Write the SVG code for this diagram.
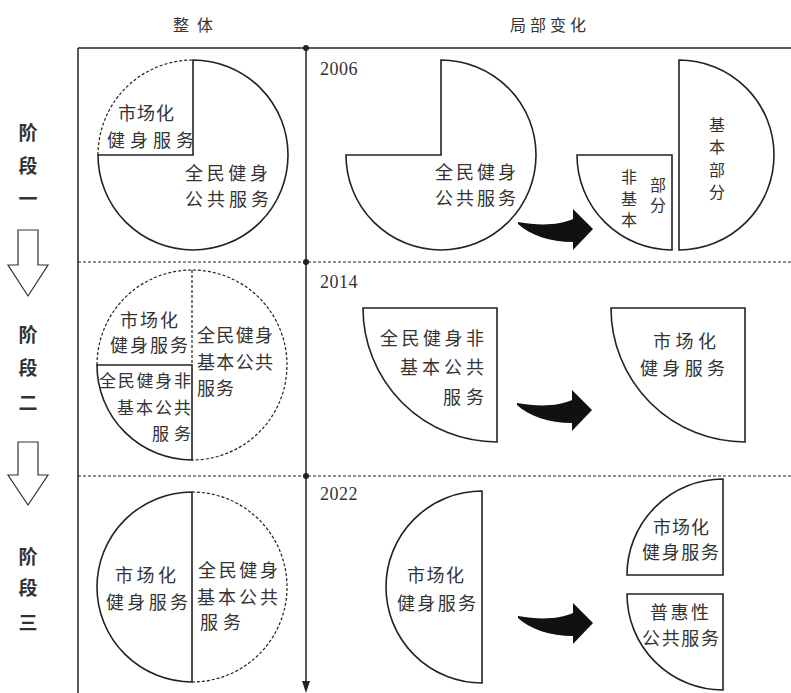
<svg xmlns="http://www.w3.org/2000/svg" xmlns:xlink="http://www.w3.org/1999/xlink" width="791" height="693" viewBox="0 0 791 693">
<style>
.ln{stroke:#222;stroke-width:1.5;fill:none}
.dl{stroke:#222;stroke-width:1.2;fill:none;stroke-dasharray:3,2}
.sh{stroke:#222;stroke-width:1.6;fill:#fff}
.t{font-family:"Noto Sans CJK SC","Noto Sans",sans-serif;font-size:18px;fill:#333}
.h{font-family:"Noto Sans CJK SC","Noto Sans",sans-serif;font-size:16px;fill:#333}
.st{font-family:"Noto Sans CJK SC","Noto Sans",sans-serif;font-size:19px;font-weight:bold;fill:#333;text-anchor:middle}
.yr{font-family:"Liberation Serif","Times New Roman",serif;font-size:18px;fill:#333;letter-spacing:0.5px}
.v{font-size:16px;writing-mode:vertical-rl}
</style>
<defs>
<path id="bigarrow" d="M518,222 C540,226 560,225 573,219 L573,209 L593,229 L573,250 L573,242 C550,242 530,235 518,224 Z" fill="#111"/>
</defs>

<g id="frame">
<line class="ln" x1="78" y1="48" x2="791" y2="48"/>
<line class="ln" x1="78" y1="48" x2="78" y2="693"/>
<line class="dl" x1="78" y1="262" x2="791" y2="262"/>
<line class="dl" x1="78" y1="476" x2="791" y2="476"/>
</g>

<g id="headers">
<text class="h" x="173" y="31" textLength="40">整体</text>
<text class="h" x="510" y="31" textLength="76">局部变化</text>
</g>

<g id="stage-labels">
<text class="st" x="28" y="140">阶</text>
<text class="st" x="28" y="173">段</text>
<text class="st" x="28" y="206">一</text>
<text class="st" x="28" y="342">阶</text>
<text class="st" x="28" y="375">段</text>
<text class="st" x="28" y="410">二</text>
<text class="st" x="28" y="564">阶</text>
<text class="st" x="28" y="595">段</text>
<text class="st" x="28" y="630">三</text>
</g>

<g id="stage-arrows">
<polygon points="18,230 38,230 38,265 48,265 28,296 8,265 18,265" fill="#fff" stroke="#333" stroke-width="1.2"/>
<polygon points="18,442 38,442 38,475 48,475 28,505 8,475 18,475" fill="#fff" stroke="#333" stroke-width="1.2"/>
</g>

<g id="connectors">
<line class="ln" x1="306" y1="48" x2="306" y2="684"/>
<polygon points="302,681 310,681 306,693" fill="#222"/>
<circle cx="306" cy="48" r="3" fill="#222"/>
<circle cx="306" cy="262" r="3" fill="#222"/>
<circle cx="306" cy="476" r="3" fill="#222"/>
<use xlink:href="#bigarrow"/>
<use xlink:href="#bigarrow" transform="translate(-1,181)"/>
<use xlink:href="#bigarrow" transform="translate(0,394)"/>
</g>

<g id="stage1-overall">
<path class="sh" d="M193,60 L193,155 L98,155 A95,95 0 1 0 193,60 Z"/>
<path class="dl" d="M98,155 A95,95 0 0 1 193,60"/>
<text class="t" x="118" y="120" textLength="56">市场化</text>
<text class="t" x="107" y="147" textLength="87">健身服务</text>
<text class="t" x="185" y="180" textLength="83">全民健身</text>
<text class="t" x="185" y="206" textLength="84">公共服务</text>
</g>

<g id="stage1-local">
<text class="yr" x="320" y="75">2006</text>
<path class="sh" d="M441,155 L441,60 A95,95 0 1 1 346,155 Z"/>
<text class="t" x="435" y="179" textLength="81">全民健身</text>
<text class="t" x="435" y="205" textLength="81">公共服务</text>
<path class="sh" d="M577,155 L672,155 L672,250 A95,95 0 0 1 577,155 Z"/>
<text class="t v" x="629" y="169" style="letter-spacing:5.5px">非基本</text>
<text class="t v" x="658" y="177" style="letter-spacing:4px">部分</text>
<path class="sh" d="M679,60 A95,95 0 0 1 679,250 Z"/>
<text class="t v" x="717" y="117" style="letter-spacing:6.3px">基本部分</text>
</g>

<g id="stage2-overall">
<path class="dl" d="M97,365 A95,95 0 1 1 192,460"/>
<line class="dl" x1="192" y1="270" x2="192" y2="365"/>
<path class="sh" d="M97,365 L192,365 L192,460 A95,95 0 0 1 97,365 Z" stroke-width="1.8"/>
<text class="t" x="120" y="327" textLength="58">市场化</text>
<text class="t" x="110" y="352" textLength="78">健身服务</text>
<text class="t" x="197" y="342" textLength="76">全民健身</text>
<text class="t" x="197" y="369" textLength="76">基本公共</text>
<text class="t" x="197" y="395" textLength="37">服务</text>
<text class="t" x="99" y="387" textLength="92" style="font-size:17px">全民健身非</text>
<text class="t" x="117" y="414" textLength="74" style="font-size:17px">基本公共</text>
<text class="t" x="152" y="440" textLength="39" style="font-size:17px">服务</text>
</g>

<g id="stage2-local">
<text class="yr" x="320" y="288">2014</text>
<path class="sh" d="M363,308 L497,308 L497,442 A134,134 0 0 1 363,308 Z"/>
<text class="t" x="380" y="345" textLength="104">全民健身非</text>
<text class="t" x="400" y="374" textLength="84">基本公共</text>
<text class="t" x="443" y="404" textLength="41">服务</text>
<path class="sh" d="M611,308 L745,308 L745,442 A134,134 0 0 1 611,308 Z"/>
<text class="t" x="653" y="348" textLength="63">市场化</text>
<text class="t" x="640" y="375" textLength="85">健身服务</text>
</g>

<g id="stage3-overall">
<path class="sh" d="M192,492 L192,682 A95,95 0 0 1 192,492 Z"/>
<path class="dl" d="M192,492 A95,95 0 0 1 192,682"/>
<text class="t" x="115" y="582" textLength="61">市场化</text>
<text class="t" x="106" y="609" textLength="82">健身服务</text>
<text class="t" x="198" y="577" textLength="80">全民健身</text>
<text class="t" x="197" y="604" textLength="81">基本公共</text>
<text class="t" x="200" y="629" textLength="41">服务</text>
</g>

<g id="stage3-local">
<text class="yr" x="320" y="500">2022</text>
<path class="sh" d="M482,491 L482,683 A96,96 0 0 1 482,491 Z"/>
<text class="t" x="407" y="582" textLength="57">市场化</text>
<text class="t" x="397" y="610" textLength="79">健身服务</text>
<path class="sh" d="M723,575 L627,575 A96,96 0 0 1 723,479 Z"/>
<text class="t" x="653" y="534" textLength="56">市场化</text>
<text class="t" x="642" y="559" textLength="77">健身服务</text>
<path class="sh" d="M627,594 L723,594 L723,690 A96,96 0 0 1 627,594 Z"/>
<text class="t" x="650" y="619" textLength="59">普惠性</text>
<text class="t" x="642" y="645" textLength="77">公共服务</text>
</g>
</svg>
